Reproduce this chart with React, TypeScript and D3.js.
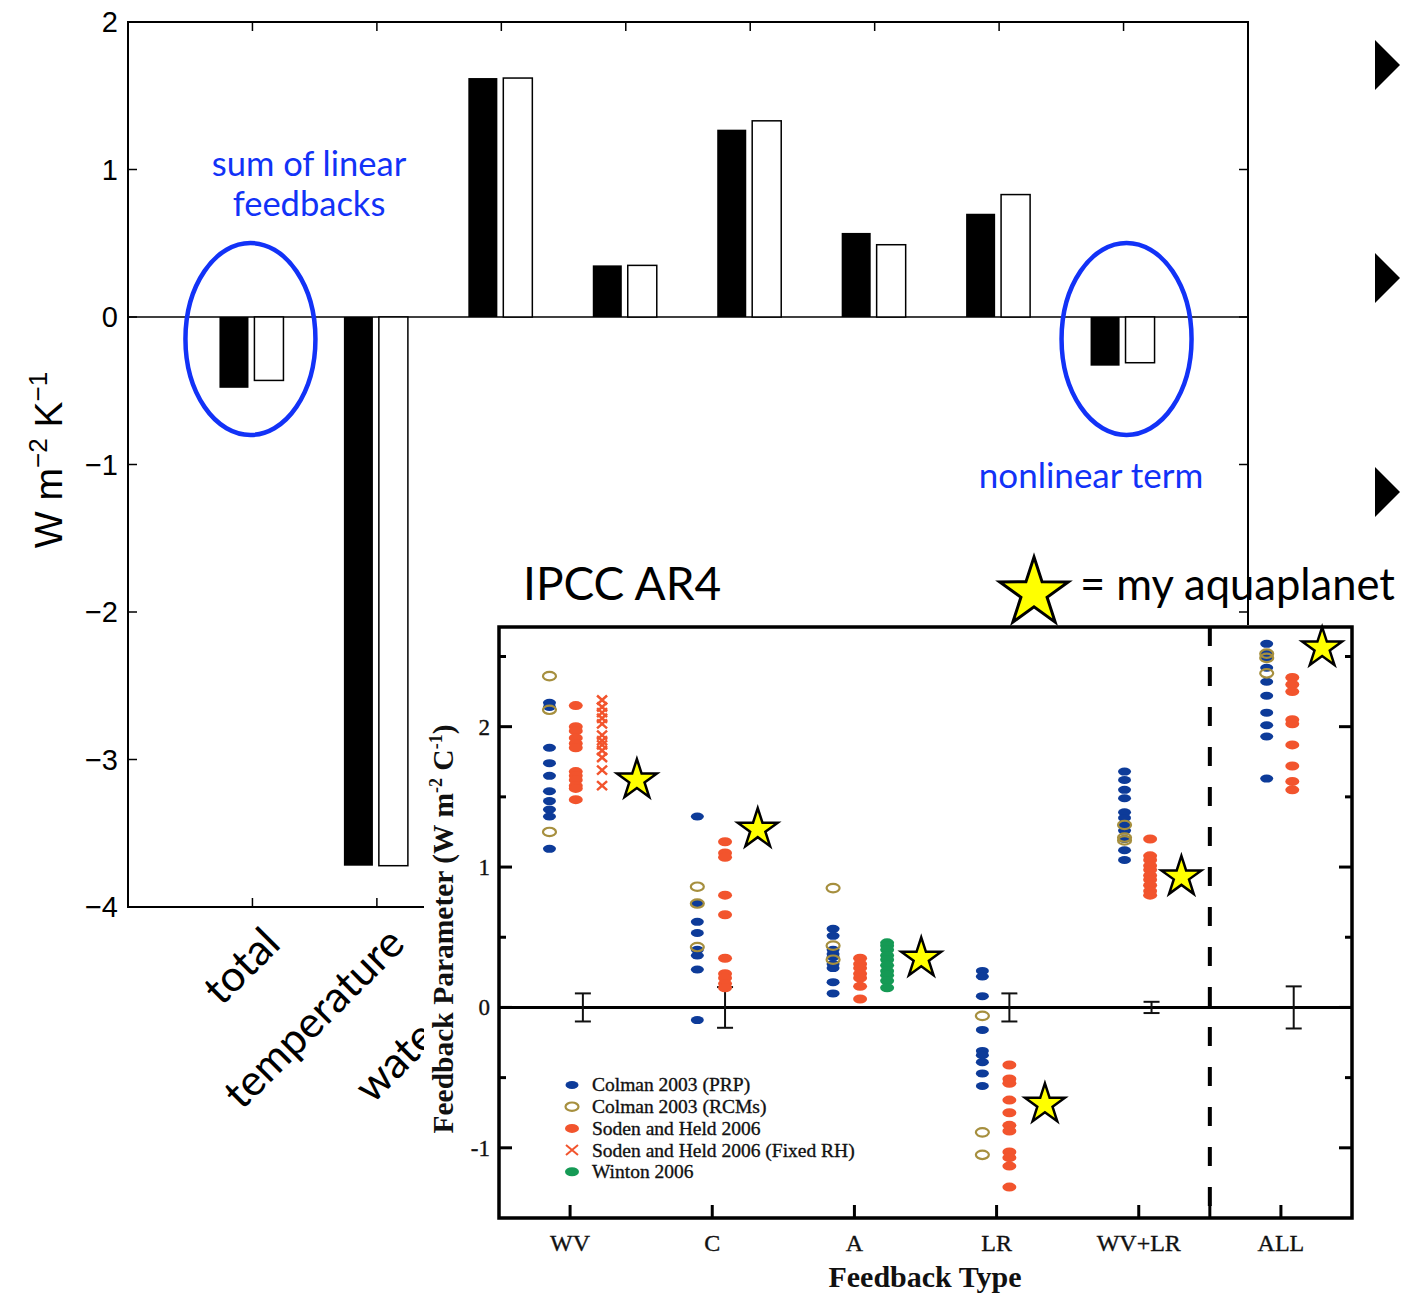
import React from "react";
import * as d3 from "d3";

// ---------------- Main bar chart data ----------------
const mainCategories = ["total", "temperature", "water vapor", "albedo", "cloud", "cloud LW", "cloud SW", "nonlinear"];
const blackBars = [-0.48, -3.72, 1.62, 0.35, 1.27, 0.57, 0.7, -0.33];
const whiteBars = [-0.43, -3.72, 1.62, 0.35, 1.33, 0.49, 0.83, -0.31];
const mainYTicks = [-4, -3, -2, -1, 0, 1, 2];

// ---------------- Inset (IPCC AR4) data ----------------
const insetCategories = ["WV", "C", "A", "LR", "WV+LR", "ALL"];
const insetYTicks = [-1, 0, 1, 2];
const insetMinorTicks = [-1, -0.5, 0, 0.5, 1, 1.5, 2, 2.5];
// values per category: WV, C, A, LR, WV+LR, ALL
const colmanPRP: number[][] = [
  [2.17, 2.14, 1.85, 1.74, 1.65, 1.54, 1.47, 1.41, 1.36, 1.13],
  [1.36, 0.74, 0.61, 0.53, 0.41, 0.37, 0.27, -0.09],
  [0.56, 0.51, 0.41, 0.38, 0.36, 0.31, 0.28, 0.18, 0.1],
  [0.26, 0.22, 0.08, -0.16, -0.31, -0.34, -0.39, -0.47, -0.56],
  [1.68, 1.62, 1.55, 1.49, 1.39, 1.35, 1.3, 1.26, 1.2, 1.12, 1.05],
  [2.59, 2.52, 2.49, 2.42, 2.32, 2.22, 2.1, 2.01, 1.93, 1.63],
];
const colmanRCM: number[][] = [
  [2.36, 2.12, 1.25],
  [0.86, 0.74, 0.43],
  [0.85, 0.44, 0.34],
  [-0.06, -0.89, -1.05],
  [1.3, 1.21, 1.19],
  [2.52, 2.49, 2.38],
];
const sodenHeld: number[][] = [
  [2.15, 2.0, 1.97, 1.92, 1.88, 1.85, 1.68, 1.65, 1.62, 1.58, 1.56, 1.48],
  [1.18, 1.1, 1.07, 0.8, 0.66, 0.35, 0.24, 0.21, 0.17, 0.14],
  [0.35, 0.31, 0.28, 0.24, 0.21, 0.15, 0.06],
  [-0.41, -0.51, -0.54, -0.66, -0.75, -0.84, -0.88, -1.03, -1.07, -1.13, -1.28],
  [1.2, 1.08, 1.05, 1.01, 0.98, 0.94, 0.91, 0.87, 0.83, 0.8],
  [2.35, 2.3, 2.25, 2.05, 2.02, 1.87, 1.72, 1.61, 1.55],
];
const sodenHeldFixedRH: number[][] = [
  [2.19, 2.14, 2.1, 2.06, 2.02, 1.94, 1.9, 1.87, 1.83, 1.78, 1.69, 1.58],
  [], [], [], [], [],
];
const winton: number[][] = [
  [], [],
  [0.46, 0.44, 0.41, 0.37, 0.34, 0.3, 0.26, 0.23, 0.19, 0.14],
  [], [], [],
];
const aquaplanet = [1.62, 1.27, 0.35, -0.69, 0.93, 2.56];
const errorHalfWidths = [0.1, 0.145, 0, 0.1, 0.04, 0.15];
const legendLabels = [
  "Colman 2003 (PRP)",
  "Colman 2003 (RCMs)",
  "Soden and Held 2006",
  "Soden and Held 2006 (Fixed RH)",
  "Winton 2006",
];

// ---------------- Styling / layout ----------------
const BLUE_DOT = "#0d3b99";
const OLIVE = "#a68f3e";
const RED = "#f2542d";
const GREEN = "#159a55";
const ANNOT = "#1232f7";
const GILL = "Lato, 'Open Sans', sans-serif";
const SERIF = "'Liberation Serif', 'DejaVu Serif', serif";
const HELV = "'Liberation Sans', Arial, sans-serif";

// column offsets (category units) per inset category: [PRP/RCM, SH, SHfix/Winton, star]
const colOffsets = [
  [-0.145, 0.04, 0.225, 0.47],
  [-0.105, 0.09, 0, 0.32],
  [-0.15, 0.04, 0.23, 0.47],
  [-0.1, 0.09, 0, 0.34],
  [-0.1, 0.08, 0, 0.3],
  [-0.1, 0.08, 0, 0.29],
];
const errOffset = 0.09;

function starPath(cx: number, cy: number, R: number) {
  const r = R * 0.382;
  const pts: [number, number][] = [];
  for (let i = 0; i < 10; i++) {
    const ang = -Math.PI / 2 + (i * Math.PI) / 5;
    const rad = i % 2 === 0 ? R : r;
    pts.push([cx + rad * Math.cos(ang), cy + rad * Math.sin(ang)]);
  }
  return d3.line()(pts) + "Z";
}

export default function App() {
  // main scales
  const xMain = d3.scaleLinear().domain([0, 9]).range([128, 1248]);
  const yMain = d3.scaleLinear().domain([-4, 2]).range([907, 22]);
  const sub = d3.scaleBand<string>().domain(["black", "white"]).range([-33, 31]).paddingInner(0.17);

  // inset scales
  const xIn = d3.scaleLinear().domain([-0.5, 5.5]).range([499, 1352]);
  const yIn = d3.scaleLinear().domain([-1.5, 2.71]).range([1218, 627]);

  const catX = (i: number) => xMain(i + 1);

  const dotRx = 6.5;
  const dotRy = 4;
  const serifWeight = { stroke: "#111", strokeWidth: 0.35 };

  return (
    <svg
      width={1405}
      height={1294}
      style={{ position: "absolute", left: 0, top: 0, display: "block", background: "#fff" }}
    >
      <rect x={0} y={0} width={1405} height={1294} fill="#fff" />

      {/* ---------- main bar chart ---------- */}
      <line x1={xMain(0)} x2={xMain(9)} y1={yMain(0)} y2={yMain(0)} stroke="#000" strokeWidth={1.5} />
      {mainCategories.map((c, i) => {
        const cx = catX(i);
        const yb = blackBars[i];
        const yw = whiteBars[i];
        return (
          <g key={c}>
            <rect
              x={cx + sub("black")!}
              width={sub.bandwidth()}
              y={Math.min(yMain(yb), yMain(0))}
              height={Math.abs(yMain(yb) - yMain(0))}
              fill="#000"
            />
            <rect
              x={cx + sub("white")!}
              width={sub.bandwidth()}
              y={Math.min(yMain(yw), yMain(0))}
              height={Math.abs(yMain(yw) - yMain(0))}
              fill="#fff"
              stroke="#000"
              strokeWidth={1.5}
            />
          </g>
        );
      })}
      <rect x={xMain(0)} y={yMain(2)} width={xMain(9) - xMain(0)} height={yMain(-4) - yMain(2)} fill="none" stroke="#000" strokeWidth={2} />
      {mainYTicks.map((t) => (
        <g key={t}>
          <line x1={xMain(0)} x2={xMain(0) + 9} y1={yMain(t)} y2={yMain(t)} stroke="#000" strokeWidth={1.5} />
          <line x1={xMain(9)} x2={xMain(9) - 9} y1={yMain(t)} y2={yMain(t)} stroke="#000" strokeWidth={1.5} />
          <text x={118} y={yMain(t)} dy="0.36em" textAnchor="end" fontFamily={HELV} fontSize={29} fill="#000">
            {t < 0 ? "\u2212" + Math.abs(t) : String(t)}
          </text>
        </g>
      ))}
      {mainCategories.map((c, i) => (
        <g key={"t" + c}>
          <line x1={catX(i)} x2={catX(i)} y1={yMain(2)} y2={yMain(2) + 9} stroke="#000" strokeWidth={1.5} />
          <line x1={catX(i)} x2={catX(i)} y1={yMain(-4)} y2={yMain(-4) - 9} stroke="#000" strokeWidth={1.5} />
          <text
            transform={`translate(${catX(i) + 30},${946}) rotate(-45)`}
            textAnchor="end"
            fontFamily={GILL}
            fontSize={43}
            fill="#000"
          >
            {c}
          </text>
        </g>
      ))}
      <text transform="translate(62,460) rotate(-90)" textAnchor="middle" fontFamily={HELV} fontSize={39} fill="#000">
        W m<tspan dy={-15} fontSize={26}>{"\u22122"}</tspan>
        <tspan dy={15}> K</tspan>
        <tspan dy={-15} fontSize={26}>{"\u22121"}</tspan>
      </text>

      {/* annotations */}
      <ellipse cx={catX(0) - 2} cy={339} rx={65} ry={96} fill="none" stroke={ANNOT} strokeWidth={4.5} />
      <ellipse cx={catX(7) + 3} cy={339} rx={65} ry={96} fill="none" stroke={ANNOT} strokeWidth={4.5} />
      <text x={309} y={176} textAnchor="middle" fontFamily={GILL} fontSize={34.5} fill={ANNOT}>
        sum of linear
      </text>
      <text x={309} y={216} textAnchor="middle" fontFamily={GILL} fontSize={34.5} fill={ANNOT}>
        feedbacks
      </text>
      <text x={1091} y={488} textAnchor="middle" fontFamily={GILL} fontSize={35} fill={ANNOT}>
        nonlinear term
      </text>

      {/* ---------- inset ---------- */}
      <rect x={424} y={625} width={1405 - 424} height={1294 - 625} fill="#fff" />
      <line x1={xIn(-0.5)} x2={xIn(5.5)} y1={yIn(0)} y2={yIn(0)} stroke="#000" strokeWidth={3} />
      <line x1={xIn(4.5)} x2={xIn(4.5)} y1={yIn(2.71)} y2={yIn(-1.5)} stroke="#000" strokeWidth={4} strokeDasharray="19 21" />
      {insetMinorTicks.map((t) => {
        const len = Number.isInteger(t) ? 13 : 7;
        return (
          <g key={"m" + t}>
            <line x1={xIn(-0.5)} x2={xIn(-0.5) + len} y1={yIn(t)} y2={yIn(t)} stroke="#000" strokeWidth={3} />
            <line x1={xIn(5.5)} x2={xIn(5.5) - len} y1={yIn(t)} y2={yIn(t)} stroke="#000" strokeWidth={3} />
          </g>
        );
      })}
      {insetYTicks.map((t) => (
        <text key={"yl" + t} x={490} y={yIn(t)} dy="0.35em" textAnchor="end" fontFamily={SERIF} fontSize={23} fill="#111" {...serifWeight}>
          {String(t)}
        </text>
      ))}
      {[...insetCategories.map((_, i) => i), 4.5].map((i) => (
        <line key={"bt" + i} x1={xIn(i)} x2={xIn(i)} y1={yIn(-1.5)} y2={yIn(-1.5) - 13} stroke="#000" strokeWidth={3} />
      ))}
      {insetCategories.map((c, i) => (
        <text key={"xl" + c} x={xIn(i)} y={1251} textAnchor="middle" fontFamily={SERIF} fontSize={24} fill="#111" {...serifWeight}>
          {c}
        </text>
      ))}
      <text x={925} y={1287} textAnchor="middle" fontFamily={SERIF} fontWeight="bold" fontSize={30} fill="#111">
        Feedback Type
      </text>
      <text transform="translate(453,929) rotate(-90)" textAnchor="middle" fontFamily={SERIF} fontWeight="bold" fontSize={29.5} fill="#111">
        Feedback Parameter (W m<tspan dy={-11} fontSize={18}>-2</tspan>
        <tspan dy={11}>{"  C"}</tspan>
        <tspan dy={-11} fontSize={18}>-1</tspan>
        <tspan dy={11}>)</tspan>
      </text>

      {/* error bars */}
      {errorHalfWidths.map((e, i) =>
        e > 0 ? (
          <g key={"eb" + i} stroke="#111" strokeWidth={2}>
            <line x1={xIn(i + errOffset)} x2={xIn(i + errOffset)} y1={yIn(e)} y2={yIn(-e)} />
            <line x1={xIn(i + errOffset) - 8} x2={xIn(i + errOffset) + 8} y1={yIn(e)} y2={yIn(e)} />
            <line x1={xIn(i + errOffset) - 8} x2={xIn(i + errOffset) + 8} y1={yIn(-e)} y2={yIn(-e)} />
          </g>
        ) : null
      )}

      {/* data points */}
      {colmanPRP.map((vals, i) =>
        vals.map((v, j) => (
          <ellipse key={`p${i}-${j}`} cx={xIn(i + colOffsets[i][0])} cy={yIn(v)} rx={dotRx} ry={dotRy} fill={BLUE_DOT} />
        ))
      )}
      {sodenHeld.map((vals, i) =>
        vals.map((v, j) => (
          <ellipse key={`s${i}-${j}`} cx={xIn(i + colOffsets[i][1])} cy={yIn(v)} rx={7} ry={4.5} fill={RED} />
        ))
      )}
      {sodenHeldFixedRH.map((vals, i) =>
        vals.map((v, j) => {
          const cx = xIn(i + colOffsets[i][2]);
          const cy = yIn(v);
          return (
            <path key={`x${i}-${j}`} d={`M${cx - 5},${cy - 4.5}L${cx + 5},${cy + 4.5}M${cx - 5},${cy + 4.5}L${cx + 5},${cy - 4.5}`} stroke={RED} strokeWidth={2.5} fill="none" />
          );
        })
      )}
      {winton.map((vals, i) =>
        vals.map((v, j) => (
          <ellipse key={`w${i}-${j}`} cx={xIn(i + colOffsets[i][2])} cy={yIn(v)} rx={7} ry={4.5} fill={GREEN} />
        ))
      )}
      {colmanRCM.map((vals, i) =>
        vals.map((v, j) => (
          <ellipse key={`r${i}-${j}`} cx={xIn(i + colOffsets[i][0])} cy={yIn(v)} rx={6.5} ry={4.2} fill="none" stroke={OLIVE} strokeWidth={2.2} />
        ))
      )}
      {aquaplanet.map((v, i) => (
        <path key={"st" + i} d={starPath(xIn(i + colOffsets[i][3]), yIn(v), 21)} fill="#ffff00" stroke="#000" strokeWidth={2.5} strokeLinejoin="miter" />
      ))}

      {/* legend */}
      {legendLabels.map((lab, k) => {
        const ly = 1085 + k * 21.7;
        const mx = 572;
        let marker: React.ReactNode = null;
        if (k === 0) marker = <ellipse cx={mx} cy={ly} rx={dotRx} ry={dotRy} fill={BLUE_DOT} />;
        if (k === 1) marker = <ellipse cx={mx} cy={ly} rx={6.5} ry={4.2} fill="none" stroke={OLIVE} strokeWidth={2.2} />;
        if (k === 2) marker = <ellipse cx={mx} cy={ly} rx={7} ry={4.5} fill={RED} />;
        if (k === 3)
          marker = <path d={`M${mx - 6},${ly - 5}L${mx + 6},${ly + 5}M${mx - 6},${ly + 5}L${mx + 6},${ly - 5}`} stroke={RED} strokeWidth={2} />;
        if (k === 4) marker = <ellipse cx={mx} cy={ly} rx={7} ry={4.5} fill={GREEN} />;
        return (
          <g key={"lg" + k}>
            {marker}
            <text x={592} y={ly} dy="0.33em" fontFamily={SERIF} fontSize={19.5} fill="#111" {...serifWeight}>
              {lab}
            </text>
          </g>
        );
      })}

      {/* inset frame */}
      <rect x={xIn(-0.5)} y={yIn(2.71)} width={xIn(5.5) - xIn(-0.5)} height={yIn(-1.5) - yIn(2.71)} fill="none" stroke="#000" strokeWidth={3.5} />

      {/* titles over the inset */}
      <text x={523} y={600} fontFamily={GILL} fontSize={46} fill="#000">
        IPCC AR4
      </text>
      <path d={starPath(1034, 593, 36)} fill="#ffff00" stroke="#000" strokeWidth={3} />
      <text x={1080} y={600} fontFamily={GILL} fontSize={43.5} fill="#000">
        = my aquaplanet
      </text>

      {/* slide bullets */}
      {[65, 278, 492].map((cy) => (
        <path key={"tri" + cy} d={`M1375,${cy - 25}L1400,${cy}L1375,${cy + 25}Z`} fill="#000" />
      ))}
    </svg>
  );
}
